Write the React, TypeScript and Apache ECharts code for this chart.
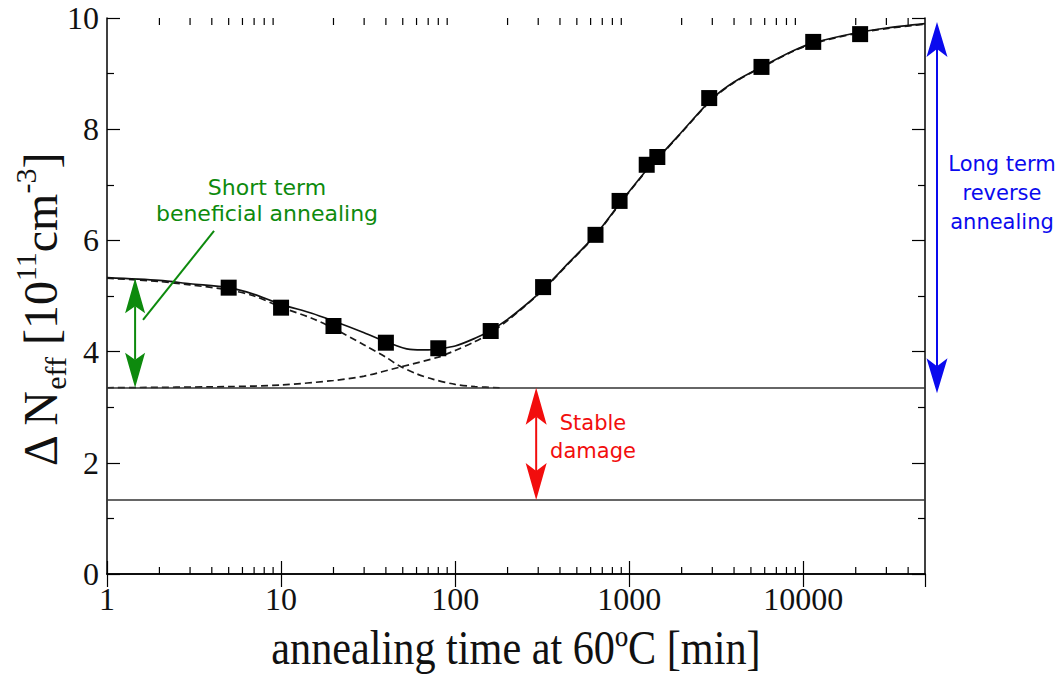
import React, { useEffect, useRef } from "react";
import * as echarts from "echarts";

const SERIF = '"Liberation Serif", "Times New Roman", serif';
const SANS = '"DejaVu Sans", "Noto Sans", sans-serif';

// x-axis (log) tick labels
const X_TICK_LABELS = ["1", "10", "100", "1000", "10000"];
const X_MIN = 1;
const X_MAX = 50000;
// log-axis minor tick positions
const X_MINOR_TICKS = [
  2, 3, 4, 5, 6, 7, 8, 9,
  20, 30, 40, 50, 60, 70, 80, 90,
  200, 300, 400, 500, 600, 700, 800, 900,
  2000, 3000, 4000, 5000, 6000, 7000, 8000, 9000,
  20000, 30000, 40000,
];
const Y_MIN = 0;
const Y_MAX = 10;
const Y_INTERVAL = 2;

// measured points
const MEAS_T = [5, 10, 20, 40, 80, 160, 320, 640, 880, 1260, 1450, 2880, 5750, 11400, 21200];
const MEAS_Y = [5.15, 4.79, 4.46, 4.16, 4.06, 4.37, 5.16, 6.1, 6.71, 7.36, 7.5, 8.56, 9.12, 9.57, 9.71];

// full fit (solid)
const FIT_T = [1, 2, 3, 5, 7, 10, 15, 20, 30, 40, 55, 70, 80, 100, 130, 160, 200, 250, 320, 450, 640, 900, 1300, 1500, 2000, 3000, 4000, 6000, 9000, 12000, 20000, 30000, 50000];
const FIT_Y = [5.33, 5.28, 5.22, 5.15, 5.03, 4.85, 4.69, 4.55, 4.34, 4.18, 4.04, 4.03, 4.05, 4.1, 4.24, 4.38, 4.58, 4.82, 5.12, 5.6, 6.1, 6.7, 7.32, 7.52, 7.95, 8.55, 8.85, 9.15, 9.43, 9.57, 9.73, 9.82, 9.9];

// short term beneficial annealing component (dashed)
const SHORT_T = [1, 2, 3, 5, 7, 10, 15, 20, 30, 40, 48, 60, 75, 100, 130, 180];
const SHORT_Y = [5.32, 5.26, 5.2, 5.11, 5.0, 4.8, 4.6, 4.42, 4.12, 3.9, 3.74, 3.6, 3.5, 3.41, 3.37, 3.35];

// long term reverse annealing component (dashed)
const LONG_T = [1, 5, 10, 20, 30, 48, 80, 100, 130, 160, 200, 250, 320, 450, 640, 900, 1300, 1500, 2000, 3000, 4000, 6000, 9000, 12000, 20000, 30000, 50000];
const LONG_Y = [3.35, 3.37, 3.4, 3.48, 3.56, 3.72, 3.9, 4.02, 4.18, 4.34, 4.56, 4.81, 5.11, 5.59, 6.09, 6.69, 7.31, 7.51, 7.94, 8.54, 8.84, 9.14, 9.42, 9.56, 9.72, 9.81, 9.89];

// reference levels
const STABLE_LEVEL = 3.35;
const LOWER_LEVEL = 1.33;

// annotation anchors (data coordinates)
const GREEN_ARROW = { t: 1.45, from: STABLE_LEVEL, to: 5.32 };
const RED_ARROW = { t: 292, from: LOWER_LEVEL, to: STABLE_LEVEL };
const BLUE_ARROW = { from: 3.25, to: 9.93 };
const GREEN_LEADER = [[1.61, 4.57], [4.12, 6.17]];

const GREEN = "#0d8a0d";
const RED = "#f20d0d";
const BLUE = "#0a0aee";
const INK = "#111";

const zip = (a: number[], b: number[]) => a.map((v, i) => [v, b[i]]);

function arrowEls(x: number, yTop: number, yBot: number, color: string, w: number, L: number, notch: number) {
  return [
    { type: "line", silent: true, z: 50, shape: { x1: x, y1: yTop + L - notch, x2: x, y2: yBot - L + notch }, style: { stroke: color, lineWidth: 2 } },
    { type: "polygon", silent: true, z: 51, shape: { points: [[x, yTop], [x - w / 2, yTop + L], [x, yTop + L - notch], [x + w / 2, yTop + L]] }, style: { fill: color } },
    { type: "polygon", silent: true, z: 51, shape: { points: [[x, yBot], [x - w / 2, yBot - L], [x, yBot - L + notch], [x + w / 2, yBot - L]] }, style: { fill: color } },
  ];
}

export default function App() {
  const ref = useRef<HTMLDivElement>(null);
  useEffect(() => {
    if (!ref.current) return;
    const chart = echarts.init(ref.current, null, { renderer: "svg" });
    const axisLine = { show: true, lineStyle: { color: "#000", width: 1.5 } };
    const option: any = {
      animation: false,
      backgroundColor: "#fff",
      grid: { left: 107, right: 137, top: 18, bottom: 105, containLabel: false },
      xAxis: [
        {
          type: "log",
          logBase: 10,
          min: X_MIN,
          max: X_MAX,
          position: "bottom",
          axisLine,
          axisTick: { show: true, inside: true, length: 13, lineStyle: { color: "#000", width: 1.2 } },
          splitLine: { show: false },
          axisLabel: {
            show: true,
            margin: 9,
            fontSize: 32,
            fontFamily: SERIF,
            color: INK,
            showMaxLabel: false,
            formatter: (v: number) => {
              const s = String(Math.round(v));
              return X_TICK_LABELS.includes(s) ? s : "";
            },
          },
        },
        {
          type: "log",
          logBase: 10,
          min: X_MIN,
          max: X_MAX,
          position: "top",
          axisLine,
          axisTick: { show: true, inside: true, length: 13, lineStyle: { color: "#000", width: 1.2 } },
          splitLine: { show: false },
          axisLabel: { show: false },
        },
      ],
      yAxis: [
        {
          type: "value",
          min: Y_MIN,
          max: Y_MAX,
          interval: Y_INTERVAL,
          position: "left",
          axisLine,
          axisTick: { show: true, inside: true, length: 13, lineStyle: { color: "#000", width: 1.2 } },
          minorTick: { show: true, splitNumber: 2, length: 7, lineStyle: { color: "#000", width: 1.2 } },
          splitLine: { show: false },
          axisLabel: { show: true, margin: 8, fontSize: 32, fontFamily: SERIF, color: INK },
        },
        {
          type: "value",
          min: Y_MIN,
          max: Y_MAX,
          interval: Y_INTERVAL,
          position: "right",
          axisLine,
          axisTick: { show: true, inside: true, length: 13, lineStyle: { color: "#000", width: 1.2 } },
          minorTick: { show: true, splitNumber: 2, length: 7, lineStyle: { color: "#000", width: 1.2 } },
          splitLine: { show: false },
          axisLabel: { show: false },
        },
      ],
      series: [
        {
          name: "minor ticks",
          type: "custom",
          xAxisIndex: 0,
          yAxisIndex: 0,
          silent: true,
          clip: false,
          data: X_MINOR_TICKS.map((v) => [v, Y_MIN]),
          renderItem: (_p: any, api: any) => {
            const v = api.value(0);
            const b = api.coord([v, Y_MIN]);
            const t = api.coord([v, Y_MAX]);
            return {
              type: "group",
              children: [
                { type: "line", shape: { x1: b[0], y1: b[1], x2: b[0], y2: b[1] - 7 }, style: { stroke: "#000", lineWidth: 1.2 } },
                { type: "line", shape: { x1: t[0], y1: t[1], x2: t[0], y2: t[1] + 7 }, style: { stroke: "#000", lineWidth: 1.2 } },
              ],
            };
          },
        },
        {
          name: "short term",
          type: "line",
          data: zip(SHORT_T, SHORT_Y),
          showSymbol: false,
          smooth: 0.3,
          lineStyle: { color: "#1a1a1a", width: 1.7, type: [7, 4] },
          z: 3,
        },
        {
          name: "long term",
          type: "line",
          data: zip(LONG_T, LONG_Y),
          showSymbol: false,
          smooth: 0.3,
          lineStyle: { color: "#1a1a1a", width: 1.7, type: [7, 4] },
          z: 3,
        },
        {
          name: "fit",
          type: "line",
          data: zip(FIT_T, FIT_Y),
          showSymbol: false,
          smooth: 0.3,
          lineStyle: { color: INK, width: 1.7 },
          z: 4,
          markLine: {
            silent: true,
            symbol: ["none", "none"],
            label: { show: false },
            lineStyle: { color: "#333", width: 1.5, type: "solid" },
            data: [{ yAxis: STABLE_LEVEL }, { yAxis: LOWER_LEVEL }],
          },
        },
        {
          name: "measured",
          type: "scatter",
          data: zip(MEAS_T, MEAS_Y),
          symbol: "rect",
          symbolSize: 16,
          itemStyle: { color: "#000", opacity: 1 },
          z: 6,
        },
      ],
    };
    chart.setOption(option);

    const px = (x: number, y: number) => chart.convertToPixel({ xAxisIndex: 0, yAxisIndex: 0 }, [x, y]) as number[];
    const g1 = px(GREEN_ARROW.t, GREEN_ARROW.to);
    const g2 = px(GREEN_ARROW.t, GREEN_ARROW.from);
    const r1 = px(RED_ARROW.t, RED_ARROW.to);
    const r2 = px(RED_ARROW.t, RED_ARROW.from);
    const b1 = px(X_MAX, BLUE_ARROW.to);
    const b2 = px(X_MAX, BLUE_ARROW.from);
    const l1 = px(GREEN_LEADER[0][0], GREEN_LEADER[0][1]);
    const l2 = px(GREEN_LEADER[1][0], GREEN_LEADER[1][1]);

    const graphics: any[] = [
      ...arrowEls(g1[0], g1[1], g2[1], GREEN, 20, 35, 7),
      ...arrowEls(r1[0], r1[1], r2[1], RED, 21, 37, 8),
      ...arrowEls(b1[0] + 12, b1[1], b2[1], BLUE, 21, 35, 8),
      { type: "line", silent: true, z: 50, shape: { x1: l1[0], y1: l1[1], x2: l2[0], y2: l2[1] }, style: { stroke: GREEN, lineWidth: 2 } },
      {
        type: "text", silent: true, z: 60, x: 267, y: 200,
        style: { text: "Short term\nbeneficial annealing", fill: GREEN, fontSize: 22, fontFamily: SANS, align: "center", verticalAlign: "middle", lineHeight: 26 },
      },
      {
        type: "text", silent: true, z: 60, x: 593, y: 437,
        style: { text: "Stable\ndamage", fill: RED, fontSize: 21, fontFamily: SANS, align: "center", verticalAlign: "middle", lineHeight: 28 },
      },
      {
        type: "text", silent: true, z: 60, x: 1002, y: 193,
        style: { text: "Long term\nreverse\nannealing", fill: BLUE, fontSize: 21, fontFamily: SANS, align: "center", verticalAlign: "middle", lineHeight: 29 },
      },
      {
        type: "text", silent: true, z: 60, x: 516, y: 648, scaleX: 0.88,
        style: { text: "annealing time at 60ºC [min]", fill: INK, fontSize: 48, fontFamily: SERIF, align: "center", verticalAlign: "middle" },
      },
      {
        type: "text", silent: true, z: 60, x: 40, y: 310, rotation: Math.PI / 2,
        style: {
          text: "{m|Δ N}{s|eff}{m| [10}{p|11}{m|cm}{p|-3}{m|]}",
          fill: INK,
          align: "center",
          verticalAlign: "middle",
          rich: {
            m: { fontSize: 48, fontFamily: SERIF, lineHeight: 60, fill: INK },
            s: { fontSize: 30, fontFamily: SERIF, lineHeight: 30, verticalAlign: "bottom", fill: INK },
            p: { fontSize: 30, fontFamily: SERIF, lineHeight: 30, verticalAlign: "top", fill: INK },
          },
        },
      },
    ];
    chart.setOption({ graphic: graphics });
    return () => chart.dispose();
  }, []);
  return <div ref={ref} style={{ position: "fixed", left: 0, top: 0, width: 1062, height: 679, background: "#fff" }} />;
}
